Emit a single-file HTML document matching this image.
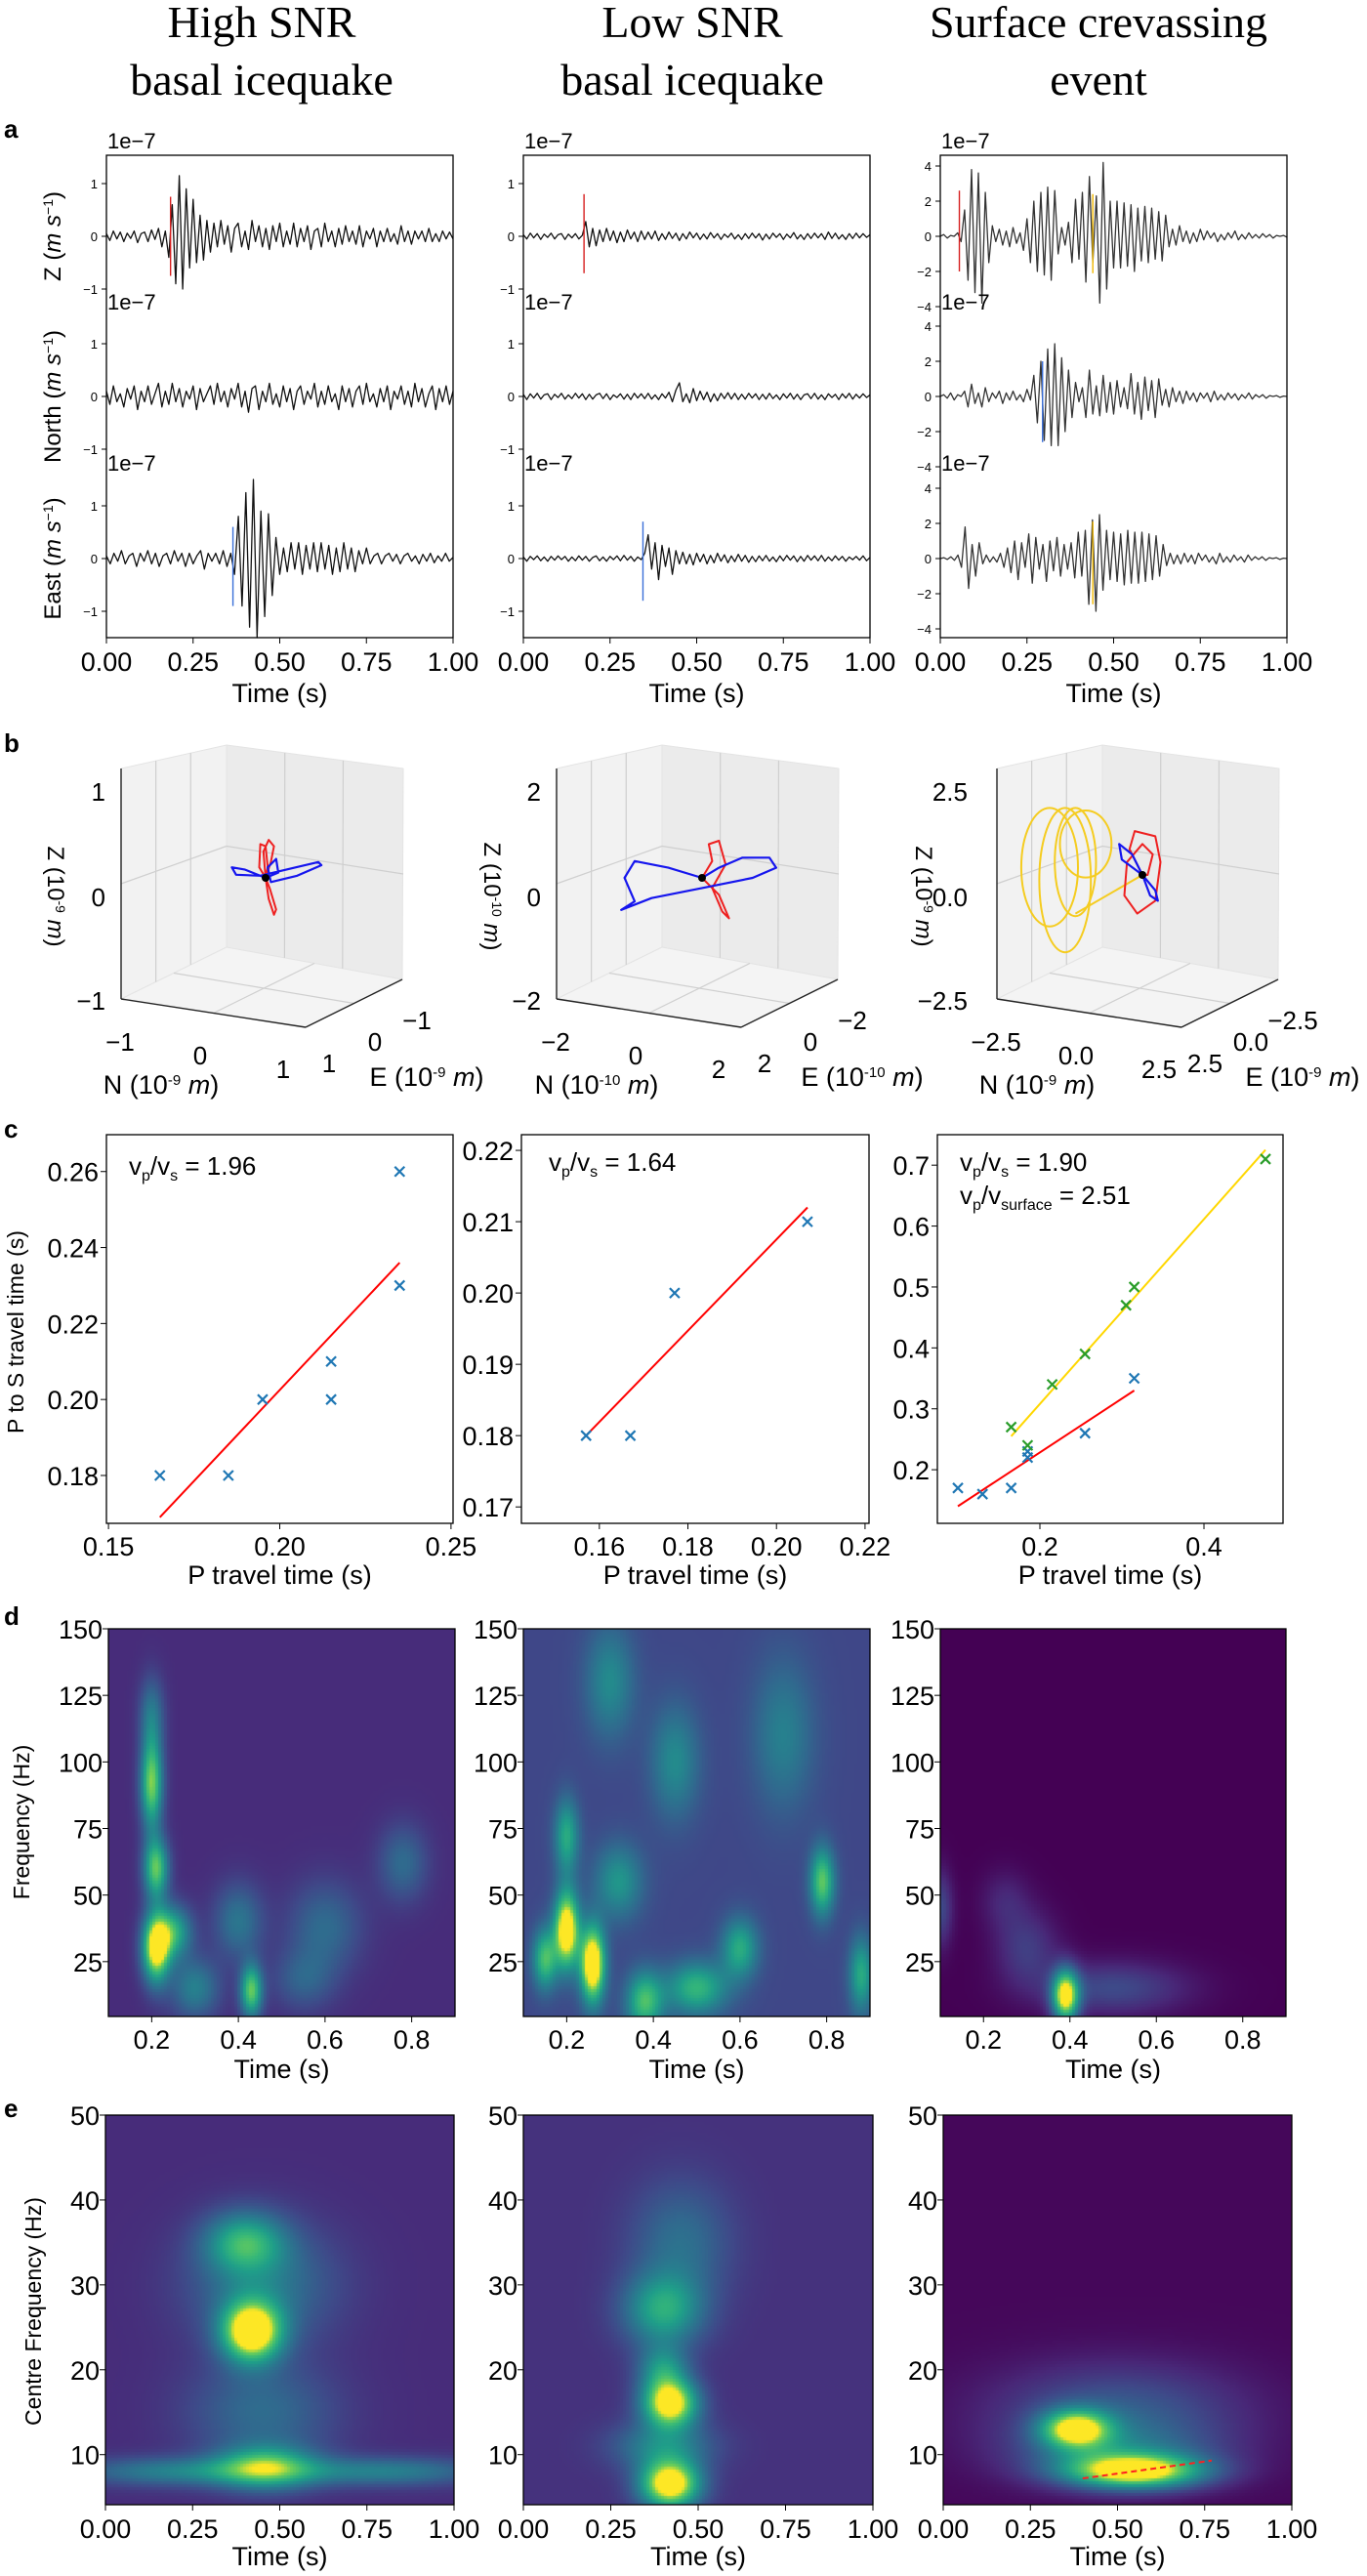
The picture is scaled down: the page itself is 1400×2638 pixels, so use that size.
<!DOCTYPE html>
<html><head><meta charset="utf-8">
<style>
html,body{margin:0;padding:0;background:#fff;}
#wrap{position:relative;width:1400px;height:2638px;overflow:hidden;background:#fff;}
canvas{position:absolute;}
svg{position:absolute;left:0;top:0;}
</style></head>
<body>
<div id="wrap">
<canvas id="hd0" style="left:111px;top:1668px" width="355" height="397"></canvas>
<canvas id="hd1" style="left:536px;top:1668px" width="355" height="397"></canvas>
<canvas id="hd2" style="left:963px;top:1668px" width="354" height="397"></canvas>
<canvas id="he0" style="left:108px;top:2166px" width="357" height="399"></canvas>
<canvas id="he1" style="left:536px;top:2166px" width="358" height="399"></canvas>
<canvas id="he2" style="left:966px;top:2166px" width="357" height="399"></canvas>
<svg id="fig" width="1400" height="2638"></svg>
</div>
<script>
// ---------- DATA ----------
const traceTicksSmall=[-1,0,1];
const traceTicksBig=[-4,-2,0,2,4];
const timeTicks=[0,0.25,0.5,0.75,1.0];
const timeTickLabels=["0.00","0.25","0.50","0.75","1.00"];

const c1Z=[0.05,-0.08,0.1,-0.05,0.08,-0.1,0.06,-0.04,0.1,-0.12,0.05,0.08,-0.1,0.12,-0.06,0.15,-0.2,0.1,-0.4,0.6,-0.9,1.15,-1.0,0.9,-0.6,0.7,-0.5,0.4,-0.45,0.3,-0.3,0.25,-0.2,0.3,-0.15,0.2,-0.3,0.15,0.25,-0.2,0.1,-0.25,0.3,-0.1,0.2,-0.2,0.15,-0.25,0.2,-0.1,0.25,-0.2,0.1,-0.15,0.25,-0.2,0.15,-0.1,0.2,-0.25,0.1,0.15,-0.2,0.25,-0.1,0.1,-0.2,0.15,-0.15,0.2,-0.1,0.1,-0.15,0.2,-0.2,0.1,-0.05,0.15,-0.2,0.1,-0.1,0.15,-0.1,0.05,-0.15,0.2,-0.1,0.1,-0.15,0.1,-0.05,0.1,-0.1,0.15,-0.1,0.05,-0.1,0.1,-0.05,0.08,-0.05];
const c1N=[0.1,-0.15,0.2,-0.1,0.05,-0.2,0.15,-0.05,0.2,-0.25,0.1,-0.1,0.2,-0.15,0.05,0.25,-0.2,0.1,-0.15,0.25,-0.1,0.15,-0.2,0.1,-0.05,0.2,-0.25,0.15,-0.1,0.05,0.2,-0.15,0.25,-0.1,0.1,-0.2,0.15,-0.05,0.25,-0.2,0.1,-0.3,0.15,0.2,-0.25,0.1,-0.1,0.25,-0.15,0.05,-0.2,0.2,-0.1,0.15,-0.25,0.1,0.2,-0.15,0.1,-0.05,0.25,-0.2,0.1,-0.15,0.2,-0.1,0.05,-0.25,0.2,-0.1,0.15,-0.2,0.1,0.2,-0.15,0.25,-0.1,0.05,-0.2,0.15,-0.1,0.2,-0.25,0.1,-0.05,0.2,-0.15,0.1,-0.2,0.25,-0.1,0.15,-0.2,0.05,0.2,-0.25,0.15,-0.1,0.2,-0.15,0.1];
const c1E=[0.05,-0.1,0.1,-0.05,0.15,-0.1,0.05,0.1,-0.15,0.1,-0.05,0.15,-0.1,0.1,-0.15,0.05,0.1,-0.1,0.15,-0.05,0.1,-0.15,0.1,-0.1,0.05,0.15,-0.2,0.1,-0.05,0.1,-0.1,0.15,-0.15,0.1,-0.3,0.8,-0.9,1.25,-1.3,1.5,-1.5,0.9,-1.1,0.85,-0.7,0.4,-0.3,0.2,-0.25,0.3,-0.2,0.3,-0.3,0.25,-0.2,0.3,-0.25,0.3,-0.2,0.25,-0.3,0.2,-0.25,0.3,-0.2,0.2,-0.25,0.15,-0.1,0.2,-0.1,0.05,0.1,-0.1,0.05,0.1,-0.05,0.08,-0.1,0.05,0.1,-0.05,0.05,-0.1,0.08,-0.05,0.1,-0.08,0.05,-0.05,0.1,-0.05,0.02];
const c2Z=[0.03,-0.05,0.06,-0.03,0.05,-0.06,0.04,-0.02,0.06,-0.05,0.03,0.05,-0.06,0.04,-0.03,0.05,-0.05,0.02,0.28,-0.2,0.15,-0.18,0.12,-0.1,0.15,-0.08,0.1,-0.12,0.08,-0.1,0.12,-0.05,0.08,-0.1,0.1,-0.06,0.08,-0.05,0.1,-0.08,0.05,-0.06,0.08,-0.04,0.06,-0.08,0.05,-0.05,0.08,-0.03,0.06,-0.06,0.04,-0.05,0.07,-0.03,0.05,-0.06,0.04,-0.02,0.06,-0.05,0.03,-0.06,0.05,-0.04,0.06,-0.03,0.05,-0.07,0.04,-0.05,0.06,-0.02,0.05,-0.06,0.04,-0.03,0.07,-0.05,0.03,-0.06,0.05,-0.04,0.06,-0.03,0.05,-0.06,0.08,-0.04,0.06,-0.05,0.03,-0.06,0.05,-0.04,0.06,-0.03,0.05,-0.02,0.03];
const c2N=[0.04,-0.06,0.05,-0.03,0.06,-0.05,0.03,0.05,-0.06,0.04,-0.02,0.06,-0.05,0.03,-0.04,0.06,-0.03,0.05,-0.06,0.04,-0.05,0.03,0.06,-0.04,0.05,-0.06,0.03,-0.02,0.05,-0.05,0.04,-0.06,0.06,-0.03,0.05,-0.04,0.06,-0.05,0.03,-0.06,0.05,-0.03,0.08,-0.1,0.12,0.26,-0.1,0.05,-0.12,0.15,-0.08,0.1,-0.06,0.08,-0.1,0.05,-0.08,0.06,-0.04,0.07,-0.05,0.06,-0.06,0.04,-0.05,0.06,-0.03,0.05,-0.06,0.04,-0.05,0.06,-0.04,0.03,-0.06,0.05,-0.03,0.06,-0.05,0.04,-0.06,0.03,0.05,-0.04,0.06,-0.05,0.03,-0.06,0.05,-0.02,0.04,-0.06,0.05,-0.03,0.06,-0.05,0.04,-0.03,0.05,-0.02,0.03];
const c2E=[0.03,-0.05,0.04,-0.02,0.05,-0.04,0.03,-0.05,0.04,-0.03,0.05,-0.02,0.04,-0.05,0.03,-0.04,0.05,-0.03,0.04,-0.05,0.02,0.05,-0.04,0.03,-0.05,0.04,-0.02,0.05,-0.04,0.06,-0.03,0.04,-0.05,0.03,-0.02,0.1,0.45,-0.2,0.3,-0.4,0.25,-0.15,0.2,-0.3,0.15,-0.1,0.12,-0.1,0.08,-0.12,0.1,-0.06,0.08,-0.1,0.06,-0.08,0.1,-0.05,0.07,-0.08,0.05,-0.06,0.08,-0.05,0.06,-0.07,0.04,-0.06,0.05,-0.04,0.06,-0.05,0.03,-0.06,0.05,-0.04,0.06,-0.03,0.05,-0.06,0.04,-0.05,0.06,-0.03,0.05,-0.04,0.06,-0.05,0.03,-0.04,0.05,-0.03,0.04,-0.05,0.03,-0.02,0.04,-0.03,0.05,-0.04,0.02];
const c3Z=[0,0.1,-0.1,0.05,0,0.2,-0.3,1.5,-2.5,3.8,-3.2,3.6,-3.8,2.5,-1.5,0.6,-0.3,0.4,-0.5,0.3,-0.6,0.5,-0.4,0.2,-0.8,1.0,-1.5,2.0,-2.0,2.5,-2.2,2.8,-2.5,2.6,-1.0,0.5,-0.5,0.8,-1.5,2.1,-1.3,2.5,-2.6,3.4,-1.5,2.3,-3.8,4.2,-3.0,2.0,-1.8,2.0,-1.8,1.9,-1.7,1.8,-2.0,1.6,-1.4,1.7,-1.5,1.6,-1.3,1.4,-1.4,1.2,-0.6,0.4,-0.5,0.6,-0.3,0.3,-0.4,0.2,-0.3,0.4,-0.2,0.3,-0.1,0.2,-0.3,0.1,-0.2,0.2,-0.1,0.3,-0.2,0.1,-0.15,0.2,-0.1,0.1,-0.1,0.15,-0.05,0.1,-0.1,0.05,0,0.05,-0.05];
const c3N=[0,0.1,-0.1,0.2,-0.2,0.1,0,0.3,-0.6,0.7,-0.4,0.2,-0.6,0.5,-0.3,0.2,-0.1,0.3,-0.4,0.2,-0.2,0.3,-0.2,0.1,-0.3,0.4,-0.2,1.2,-1.5,2.0,-2.5,2.7,-2.8,3.0,-2.8,2.2,-2.0,1.5,-1.2,0.8,-0.3,0.5,-1.2,1.5,-1.0,0.6,-1.1,1.2,-0.9,0.8,-1.0,0.9,-0.6,0.5,-0.7,1.3,-1.0,0.8,-1.3,1.1,-0.8,0.9,-1.2,1.0,-0.5,0.4,-0.6,0.5,-0.3,0.3,-0.4,0.3,-0.2,0.2,-0.3,0.2,-0.1,0.2,-0.3,0.3,-0.2,0.1,-0.2,0.2,-0.1,0.15,-0.2,0.1,-0.1,0.2,-0.15,0.1,-0.05,0.1,-0.1,0.05,0,0.05,-0.05,0.02,0];
const c3E=[0,0.05,-0.05,0.1,-0.1,0.2,-0.5,1.8,-1.7,0.8,-1.0,0.9,-0.3,0.2,-0.2,0.1,-0.2,0.3,-0.5,0.6,-0.8,1.0,-1.2,0.9,-0.5,1.4,-1.4,1.2,-0.6,0.8,-1.3,1.0,-0.7,1.2,-1.0,0.8,-0.6,0.9,-1.1,1.5,-1.0,1.6,-2.6,2.2,-3.0,2.5,-1.8,1.6,-1.2,1.5,-1.3,1.4,-1.5,1.6,-1.4,1.5,-1.4,1.5,-1.3,1.4,-1.2,1.3,-1.0,0.8,-0.4,0.3,-0.3,0.2,-0.3,0.3,-0.2,0.2,-0.3,0.3,-0.1,0.2,-0.2,0.1,-0.3,0.3,-0.2,0.1,-0.2,0.2,-0.1,0.1,-0.2,0.2,-0.1,0.1,-0.05,0.1,-0.1,0.05,0,0.05,-0.05,0.02,0];
// picks: [column, component(0=Z,1=N,2=E), time, top, bottom, colour]
const pickTimes=[0.185,0.365,0.175,0.345,0.055,0.44,0.295,0.44];
const pickTop=[0.75,0.6,0.8,0.7,2.6,2.4,2.0,2.1];
const pickBottom=[-0.75,-0.9,-0.7,-0.8,-2.0,-2.1,-2.6,-2.6];
const pickCol=[0,0,1,1,2,2,2,2];
const pickComp=[0,2,0,2,0,0,1,2];
const pickColor=["#d62020","#3a6fd8","#d62020","#3a6fd8","#d62020","#f0b800","#3a6fd8","#f0b800"];

// panel b particle motion (projected units)
const red1=[[0,0],[0.05,0.15],[0.08,0.3],[0.03,0.36],[-0.02,0.25],[0,0],[0.03,-0.2],[0.08,-0.35],[0.1,-0.3],[0.04,-0.1],[0,0],[-0.06,0.1],[-0.05,0.32],[0,0.3],[0.02,0.1],[0,0]];
const blue1=[[0,0],[-0.2,0.08],[-0.32,0.1],[-0.28,0.03],[-0.05,0.02],[0.2,0.08],[0.5,0.15],[0.53,0.12],[0.3,0.02],[0.05,-0.04],[0.02,0.1],[0.1,0.18],[0.12,0.05],[0,0]];
const red2=[[0,0],[0.3,0.5],[0.2,1.0],[0.5,1.1],[0.7,0.4],[0.3,-0.3],[0.6,-1.0],[0.8,-1.2],[0.5,-0.5],[0,0]];
const blue2=[[0,0],[-1,0.3],[-2,0.5],[-2.3,0],[-2.0,-0.7],[-2.4,-0.95],[-1.5,-0.6],[0,-0.3],[1.5,0],[2.2,0.3],[2.0,0.6],[1.2,0.6],[0.5,0.3],[0,0]];
const red3=[[0,0],[-0.5,1.0],[-0.3,1.7],[0.5,1.5],[0.7,0.5],[0.5,-1.0],[-0.2,-1.5],[-0.7,-0.8],[-0.6,0.5],[0,1.2],[0.4,0.8],[0.2,0],[0,0]];
const blue3=[[0,0],[-0.8,0.6],[-0.9,1.2],[-0.4,0.8],[0,0],[0.5,-0.6],[0.6,-1.0],[0.3,-0.8],[0,0]];
const yellowCx=[-3.6,-3.0,-2.6,-2.2];
const yellowCy=[0.3,-0.2,0.5,1.2];
const yellowRx=[1.1,1.0,0.8,1.0];
const yellowRy=[2.3,2.8,2.1,1.3];

// panel c scatter
const sP1=[0.165,0.185,0.195,0.215,0.215,0.235,0.235];
const sS1=[0.18,0.18,0.20,0.21,0.20,0.23,0.26];
const fit1=[[0.165,0.169],[0.235,0.236]];
const sP2=[0.157,0.167,0.177,0.207];
const sS2=[0.18,0.18,0.20,0.21];
const fit2=[[0.157,0.18],[0.207,0.212]];
const sP3b=[0.10,0.13,0.165,0.185,0.185,0.255,0.315];
const sS3b=[0.17,0.16,0.17,0.23,0.22,0.26,0.35];
const sP3g=[0.165,0.185,0.215,0.255,0.305,0.315,0.475];
const sS3g=[0.27,0.24,0.34,0.39,0.47,0.50,0.71];
const fit3r=[[0.10,0.14],[0.315,0.33]];
const fit3y=[[0.165,0.255],[0.475,0.725]];

// heatmap blobs: [time, freq, amplitude, sigmaT, sigmaF]
const dBase=[0.14,0.24,0.0];
const dBlobs0=[[0.2,92,0.75,0.018,12],[0.21,60,0.7,0.02,8],[0.21,30,0.95,0.022,9],[0.25,36,0.55,0.03,7],[0.43,14,0.7,0.018,7],[0.3,15,0.35,0.04,8],[0.4,40,0.3,0.04,10],[0.6,38,0.25,0.06,12],[0.78,62,0.25,0.04,10],[0.2,118,0.3,0.02,10],[0.55,18,0.2,0.05,8]];
const dBlobs1=[[0.2,37,0.95,0.02,10],[0.26,24,1.0,0.02,10],[0.15,26,0.55,0.02,8],[0.38,10,0.55,0.03,8],[0.5,15,0.5,0.05,7],[0.6,30,0.45,0.03,8],[0.79,55,0.6,0.02,9],[0.2,72,0.45,0.02,10],[0.32,55,0.35,0.04,10],[0.88,20,0.45,0.02,10],[0.45,100,0.3,0.04,15],[0.7,110,0.25,0.05,20],[0.3,130,0.3,0.04,15]];
const dBlobs2=[[0.39,12,1.0,0.022,7],[0.1,45,0.25,0.02,10],[0.5,15,0.25,0.12,7],[0.3,30,0.2,0.05,10],[0.25,48,0.12,0.04,8]];
const eBase=[0.14,0.16,0.02];
const eBlobs0=[[0.42,24.5,1.0,0.06,2.5],[0.4,35,0.5,0.08,2.5],[0.46,8.5,0.6,0.1,1.8],[0.2,8,0.35,0.2,1.2],[0.8,8,0.35,0.2,1.2],[0.45,30,0.3,0.15,5],[0.45,15,0.25,0.15,4]];
const eBlobs1=[[0.42,16,0.95,0.055,2],[0.42,6.5,1.0,0.06,2],[0.4,27,0.5,0.08,3],[0.4,20,0.4,0.05,2],[0.45,35,0.25,0.1,5],[0.4,11,0.35,0.1,2]];
const eBlobs2=[[0.38,13,0.85,0.07,1.6],[0.55,8,0.95,0.14,1.4],[0.5,15,0.3,0.25,4],[0.5,10,0.3,0.2,2.5]];
const viridis=["#440154","#482878","#3e4a89","#31688e","#26828e","#1f9e89","#35b779","#6ece58","#fde725"];

// ---------- HELPERS ----------
const NS="http://www.w3.org/2000/svg";
const S=document.getElementById('fig');
const FN='"Liberation Sans Narrow","Liberation Sans",sans-serif';
const FS='"Liberation Sans","DejaVu Sans",sans-serif';
function lin(d0,d1,r0,r1){return v=>r0+(v-d0)*(r1-r0)/(d1-d0);}
function mk(tag,attrs){const e=document.createElementNS(NS,tag);for(const k in attrs)e.setAttribute(k,attrs[k]);S.appendChild(e);return e;}
function txt(x,y,s,size,name,opt){
  opt=opt||{};
  const el=mk('text',{x:x,y:y,'font-size':size,'font-family':opt.font||FN,'text-anchor':opt.anchor||'middle',fill:'#000'});
  if(opt.rot)el.setAttribute('transform','rotate('+opt.rot+' '+x+' '+y+')');
  if(opt.weight)el.setAttribute('font-weight',opt.weight);
  if(opt.html)el.innerHTML=s;else el.textContent=s;
  
  
  return el;}
function ln(x1,y1,x2,y2,stroke,w,name,dash){
  const el=mk('line',{x1:x1,y1:y1,x2:x2,y2:y2,stroke:stroke,'stroke-width':w});
  if(dash)el.setAttribute('stroke-dasharray',dash);
  
  
  return el;}
function pl(pts,stroke,w,name,fill){
  const el=mk('polyline',{points:pts.map(p=>p[0].toFixed(1)+','+p[1].toFixed(1)).join(' '),stroke:stroke,'stroke-width':w,fill:fill||'none','stroke-linejoin':'round'});
  
  
  return el;}
function rect(x,y,w,h,name,fill,stroke){
  const el=mk('rect',{x:x,y:y,width:w,height:h,fill:fill||'none',stroke:stroke||'#000','stroke-width':1.3});
  
  
  return el;}
function xmark(x,y,c,name){
  const el=mk('path',{d:`M${x-5},${y-5}L${x+5},${y+5}M${x-5},${y+5}L${x+5},${y-5}`,stroke:c,'stroke-width':2.2});
  
  }

// ---------- TITLES ----------
const titles=[["High SNR","basal icequake"],["Low SNR","basal icequake"],["Surface crevassing","event"]];
const titleX=[268,709,1125];
titles.forEach((t,i)=>{
  txt(titleX[i],38,t[0],46,'column-title-line1',{font:'"Liberation Serif",serif'});
  txt(titleX[i],97,t[1],46,'column-title-line2',{font:'"Liberation Serif",serif'});
});
[['a',141],['b',770],['c',1165],['d',1664],['e',2168]].forEach(p=>txt(4,p[1],p[0],26,'panel-label-'+p[0],{font:FS,anchor:'start',weight:'bold'}));

// ---------- PANEL A ----------
const aX=[109,536,963], aW=355, aTop=159, aBot=653;
const subC=[242,406,572];
const traces=[[c1Z,c1N,c1E],[c2Z,c2N,c2E],[c3Z,c3N,c3E]];
const compNames=['z','north','east'];
for(let c=0;c<3;c++){
  const xs=lin(0,1,aX[c],aX[c]+aW);
  const unit=c<2?54:18;
  const ticks=c<2?traceTicksSmall:traceTicksBig;
  for(let k=0;k<3;k++){
    const ys=v=>subC[k]-v*unit;
    const data=traces[c][k];
    pl(data.map((v,i)=>[xs(i/(data.length-1)),ys(v)]),c<2?'#111':'#333',1.3,'trace-'+compNames[k]);
    ticks.forEach(t=>{ln(aX[c]-5,ys(t),aX[c],ys(t),'#000',1,'y-tick');
      txt(aX[c]-9,ys(t)+5,t<0?'\u2212'+(-t):String(t),13,'y-tick-label',{font:FS,anchor:'end'});});
    txt(aX[c]+1,[152,317,482][k],'1e\u22127',22,'scale-label',{anchor:'start'});
  }
  for(let p=0;p<pickTimes.length;p++){ if(pickCol[p]!==c)continue;
    const ys=v=>subC[pickComp[p]]-v*unit;
    ln(xs(pickTimes[p]),ys(pickTop[p]),xs(pickTimes[p]),ys(pickBottom[p]),pickColor[p],1.4,'phase-pick');}
  rect(aX[c],aTop,aW,aBot-aTop,'waveform-axes');
  timeTicks.forEach((t,i)=>{ln(xs(t),aBot,xs(t),aBot+6,'#000',1,'x-tick');
    txt(xs(t),aBot+34,timeTickLabels[i],27,'x-tick-label');});
  txt(aX[c]+aW/2,aBot+66,'Time (s)',27,'x-axis-title');
}
txt(62,242,'Z (<tspan font-style="italic">m s</tspan><tspan dy="-8" font-size="14">\u22121</tspan><tspan dy="8">)</tspan>',24,'y-axis-title-z',{font:FS,rot:-90,html:true});
txt(62,406,'North (<tspan font-style="italic">m s</tspan><tspan dy="-8" font-size="14">\u22121</tspan><tspan dy="8">)</tspan>',24,'y-axis-title-north',{font:FS,rot:-90,html:true});
txt(62,572,'East (<tspan font-style="italic">m s</tspan><tspan dy="-8" font-size="14">\u22121</tspan><tspan dy="8">)</tspan>',24,'y-axis-title-east',{font:FS,rot:-90,html:true});

// ---------- PANEL B ----------
const bOff=[0,446,897];
const bCenter=[[272,899],[719,899],[1170,896]];
const bUnit=[108,34.5,26.4];
const zTicks=[["1","0","\u22121"],["2","0","\u22122"],["2.5","0.0","\u22122.5"]];
const zTickY=[811,919,1025];
const nTicks=[["\u22121","0","1"],["\u22122","0","2"],["\u22122.5","0.0","2.5"]];
const eTicks=[["\u22121","0","1"],["\u22122","0","2"],["\u22122.5","0.0","2.5"]];
const expo=["-9","-10","-9"];
for(let c=0;c<3;c++){
  const o=bOff[c];
  const P=(x,y)=>[x+o,y];
  const lw=[P(124,787),P(232,763),P(232,970),P(124,1023)];
  const rw=[P(232,763),P(413,787),P(412,1003),P(232,970)];
  const fl=[P(124,1023),P(232,970),P(412,1003),P(313,1052)];
  pl(lw.concat([lw[0]]),'#e4e4e4',1,'left-pane','#f2f2f2');
  pl(rw.concat([rw[0]]),'#e4e4e4',1,'right-pane','#ebebeb');
  pl(fl.concat([fl[0]]),'#e4e4e4',1,'floor-pane','#f4f4f4');
  // grid lines
  [0.33,0.66].forEach(f=>{
    ln(124+108*f+o,787-24*f,124+108*f+o,1023-53*f,'#cfcfcf',1.2,'grid-line');
    ln(232+181*f+o,763+24*f,232+180*f+o,970+33*f,'#cfcfcf',1.2,'grid-line');
  });
  [0.5].forEach(f=>{
    ln(124+o,787+236*f,232+o,763+207*f,'#cfcfcf',1.2,'grid-line');
    ln(232+o,763+207*f,413+o,787+216*f,'#cfcfcf',1.2,'grid-line');
    ln(124+108*f+o,1023-53*f,313+99*f+o,1052-49*f,'#cfcfcf',1.2,'grid-line');
    ln(232+180*f+o,970+33*f,124+189*f+o,1023+29*f,'#cfcfcf',1.2,'grid-line');
  });
  ln(124+o,787,124+o,1023,'#222',1.4,'z-axis-line');
  ln(124+o,1023,313+o,1052,'#222',1.4,'n-axis-line');
  ln(313+o,1052,412+o,1003,'#222',1.4,'e-axis-line');
  const [cx,cy]=bCenter[c], u=bUnit[c];
  const m=p=>[cx+p[0]*u,cy-p[1]*u];
  if(c===2){ for(let i=0;i<yellowCx.length;i++){
      const el=mk('ellipse',{cx:cx+yellowCx[i]*u,cy:cy-yellowCy[i]*u,rx:yellowRx[i]*u,ry:yellowRy[i]*u,fill:'none',stroke:'#f5cc20','stroke-width':2});
      
      }
    pl([m([-2.6,-1.5]),m([0,0])],'#f5cc20',2,'motion-surface-wave');}
  const R=[red1,red2,red3][c], B=[blue1,blue2,blue3][c];
  pl(R.map(m),'#ee2020',2,'motion-p-wave');
  pl(B.map(m),'#1515ee',2.2,'motion-s-wave');
  const dot=mk('circle',{cx:cx,cy:cy,r:4,fill:'#000'});
  
  
  for(let i=0;i<3;i++){
    txt(108+o-(c===2?14:0),zTickY[i]+9,zTicks[c][i],26,'z-tick-label',{anchor:'end'});
    txt([123,205,290][i]+o,[1076,1090,1104][i],nTicks[c][i],26,'n-tick-label');
    txt([337,384,427][i]+o,[1098,1076,1054][i],eTicks[c][2-i],26,'e-tick-label');
  }
  txt(165+o,1120,'N (10<tspan dy="-9" font-size="15">'+expo[c]+'</tspan><tspan dy="9"> </tspan><tspan font-style="italic">m</tspan>)',27,'n-axis-title',{html:true});
  txt(437+o,1112,'E (10<tspan dy="-9" font-size="15">'+expo[c]+'</tspan><tspan dy="9"> </tspan><tspan font-style="italic">m</tspan>)',27,'e-axis-title',{html:true});
  const zx=c===0?49:(c===1?496:938);
  txt(zx,918,'Z (10<tspan dy="-8" font-size="14">'+expo[c]+'</tspan><tspan dy="8"> </tspan><tspan font-style="italic">m</tspan>)',24,'z-axis-title',{font:FS,rot:90,html:true});
}

// ---------- PANEL C ----------
const cAx=[{x0:109,x1:464,d0:0.1494,d1:0.2506,r0:0.2697,r1:0.1674},
           {x0:534,x1:890,d0:0.1424,d1:0.2209,r0:0.2222,r1:0.1677},
           {x0:960,x1:1314,d0:0.075,d1:0.4964,r0:0.75,r1:0.112}];
const cXT=[[0.15,0.20,0.25],[0.16,0.18,0.20,0.22],[0.2,0.4]];
const cXL=[["0.15","0.20","0.25"],["0.16","0.18","0.20","0.22"],["0.2","0.4"]];
const cYT=[[0.18,0.20,0.22,0.24,0.26],[0.17,0.18,0.19,0.20,0.21,0.22],[0.2,0.3,0.4,0.5,0.6,0.7]];
const cYL=[["0.18","0.20","0.22","0.24","0.26"],["0.17","0.18","0.19","0.20","0.21","0.22"],["0.2","0.3","0.4","0.5","0.6","0.7"]];
const cTop=1162,cBot=1560;
for(let c=0;c<3;c++){
  const a=cAx[c];
  const xs=lin(a.d0,a.d1,a.x0,a.x1), ys=lin(a.r0,a.r1,cTop,cBot);
  if(c===0){pl(fit1.map(p=>[xs(p[0]),ys(p[1])]),'#ff0000',2,'fit-line');
    sP1.forEach((p,i)=>xmark(xs(p),ys(sS1[i]),'#1f77b4','data-point'));}
  if(c===1){pl(fit2.map(p=>[xs(p[0]),ys(p[1])]),'#ff0000',2,'fit-line');
    sP2.forEach((p,i)=>xmark(xs(p),ys(sS2[i]),'#1f77b4','data-point'));}
  if(c===2){pl(fit3r.map(p=>[xs(p[0]),ys(p[1])]),'#ff0000',2,'fit-line-s');
    pl(fit3y.map(p=>[xs(p[0]),ys(p[1])]),'#ffd700',2,'fit-line-surface');
    sP3b.forEach((p,i)=>xmark(xs(p),ys(sS3b[i]),'#1f77b4','data-point-s'));
    sP3g.forEach((p,i)=>xmark(xs(p),ys(sS3g[i]),'#2a9d2a','data-point-surface'));}
  rect(a.x0,cTop,a.x1-a.x0,cBot-cTop,'scatter-axes');
  cXT[c].forEach((t,i)=>{ln(xs(t),cBot,xs(t),cBot+6,'#000',1,'x-tick');txt(xs(t),cBot+33,cXL[c][i],27,'x-tick-label');});
  cYT[c].forEach((t,i)=>{ln(a.x0-6,ys(t),a.x0,ys(t),'#000',1,'y-tick');txt(a.x0-8,ys(t)+10,cYL[c][i],27,'y-tick-label',{anchor:'end'});});
  txt((a.x0+a.x1)/2,cBot+62,'P travel time (s)',27,'x-axis-title');
}
txt(132,1203,'v<tspan dy="6" font-size="16">p</tspan><tspan dy="-6">/v</tspan><tspan dy="6" font-size="16">s</tspan><tspan dy="-6"> = 1.96</tspan>',26,'ratio-annotation',{anchor:'start',html:true});
txt(562,1199,'v<tspan dy="6" font-size="16">p</tspan><tspan dy="-6">/v</tspan><tspan dy="6" font-size="16">s</tspan><tspan dy="-6"> = 1.64</tspan>',26,'ratio-annotation',{anchor:'start',html:true});
txt(983,1199,'v<tspan dy="6" font-size="16">p</tspan><tspan dy="-6">/v</tspan><tspan dy="6" font-size="16">s</tspan><tspan dy="-6"> = 1.90</tspan>',26,'ratio-annotation',{anchor:'start',html:true});
txt(983,1233,'v<tspan dy="6" font-size="16">p</tspan><tspan dy="-6">/v</tspan><tspan dy="6" font-size="16">surface</tspan><tspan dy="-6"> = 2.51</tspan>',26,'ratio-annotation-surface',{anchor:'start',html:true});
txt(24,1364,'P to S travel time (s)',23,'y-axis-title',{font:FS,rot:-90});

// ---------- HEATMAPS ----------
function hex(h){return [parseInt(h.slice(1,3),16),parseInt(h.slice(3,5),16),parseInt(h.slice(5,7),16)];}
const vir=viridis.map(hex);
function cmap(v){v=Math.max(0,Math.min(1,v));const f=v*(vir.length-1);const i=Math.min(vir.length-2,Math.floor(f));const t=f-i;
  return vir[i].map((c,k)=>Math.round(c+(vir[i+1][k]-c)*t));}
function heat(id,base,blobs,t0,t1,f0,f1){
  const cv=document.getElementById(id),ctx=cv.getContext('2d');const W=cv.width,H=cv.height;
  const xs=lin(t0,t1,0,W), ys=lin(f0,f1,H,0);
  const cell=3;
  for(let py=0;py<H;py+=cell){for(let px=0;px<W;px+=cell){
    const t=t0+(px+cell/2)/W*(t1-t0), f=f0+(H-py-cell/2)/H*(f1-f0);
    let v=base;
    blobs.forEach(b=>{const dt=(t-b[0])/b[3],df=(f-b[1])/b[4];v+=b[2]*Math.exp(-0.5*(dt*dt+df*df));});
    const col=cmap(v);ctx.fillStyle='rgb('+col.join(',')+')';ctx.fillRect(px,py,cell,cell);}}
  return {xs,ys};
}
const dX=[111,536,963],dW=[355,355,354],dTop=1668,dBot=2065;
const dB=[dBlobs0,dBlobs1,dBlobs2];
for(let c=0;c<3;c++){
  heat('hd'+c,dBase[c],dB[c],0.1,0.9,4.4,150);
  const xs=lin(0.1,0.9,dX[c],dX[c]+dW[c]), ys=lin(4.4,150,dBot,dTop);
  rect(dX[c],dTop,dW[c],dBot-dTop,'spectrogram-axes');
  [0.2,0.4,0.6,0.8].forEach(t=>{ln(xs(t),dBot,xs(t),dBot+6,'#000',1,'x-tick');txt(xs(t),dBot+33,t.toFixed(1),27,'x-tick-label');});
  [25,50,75,100,125,150].forEach(f=>{ln(dX[c]-6,ys(f),dX[c],ys(f),'#000',1,'y-tick');txt(dX[c]-6,ys(f)+10,String(f),27,'y-tick-label',{anchor:'end'});});
  txt(dX[c]+dW[c]/2,dBot+63,'Time (s)',27,'x-axis-title');
}
txt(30,1866,'Frequency (Hz)',23,'y-axis-title',{font:FS,rot:-90});
const eX=[108,536,966],eW=[357,358,357],eTop=2166,eBot=2565;
const eB=[eBlobs0,eBlobs1,eBlobs2];
for(let c=0;c<3;c++){
  heat('he'+c,eBase[c],eB[c],0,1,4.1,50);
  const xs=lin(0,1,eX[c],eX[c]+eW[c]), ys=lin(4.1,50,eBot,eTop);
  rect(eX[c],eTop,eW[c],eBot-eTop,'wavelet-axes');
  timeTicks.forEach((t,i)=>{ln(xs(t),eBot,xs(t),eBot+6,'#000',1,'x-tick');txt(xs(t),eBot+34,timeTickLabels[i],27,'x-tick-label');});
  [10,20,30,40,50].forEach(f=>{ln(eX[c]-6,ys(f),eX[c],ys(f),'#000',1,'y-tick');txt(eX[c]-6,ys(f)+10,String(f),27,'y-tick-label',{anchor:'end'});});
  txt(eX[c]+eW[c]/2,eBot+62,'Time (s)',27,'x-axis-title');
  if(c===2){ln(xs(0.4),ys(7.2),xs(0.77),ys(9.3),'#ff2020',2,'dispersion-line','6,4');}
}
txt(42,2367,'Centre Frequency (Hz)',23,'y-axis-title',{font:FS,rot:-90});
</script>
</body></html>
